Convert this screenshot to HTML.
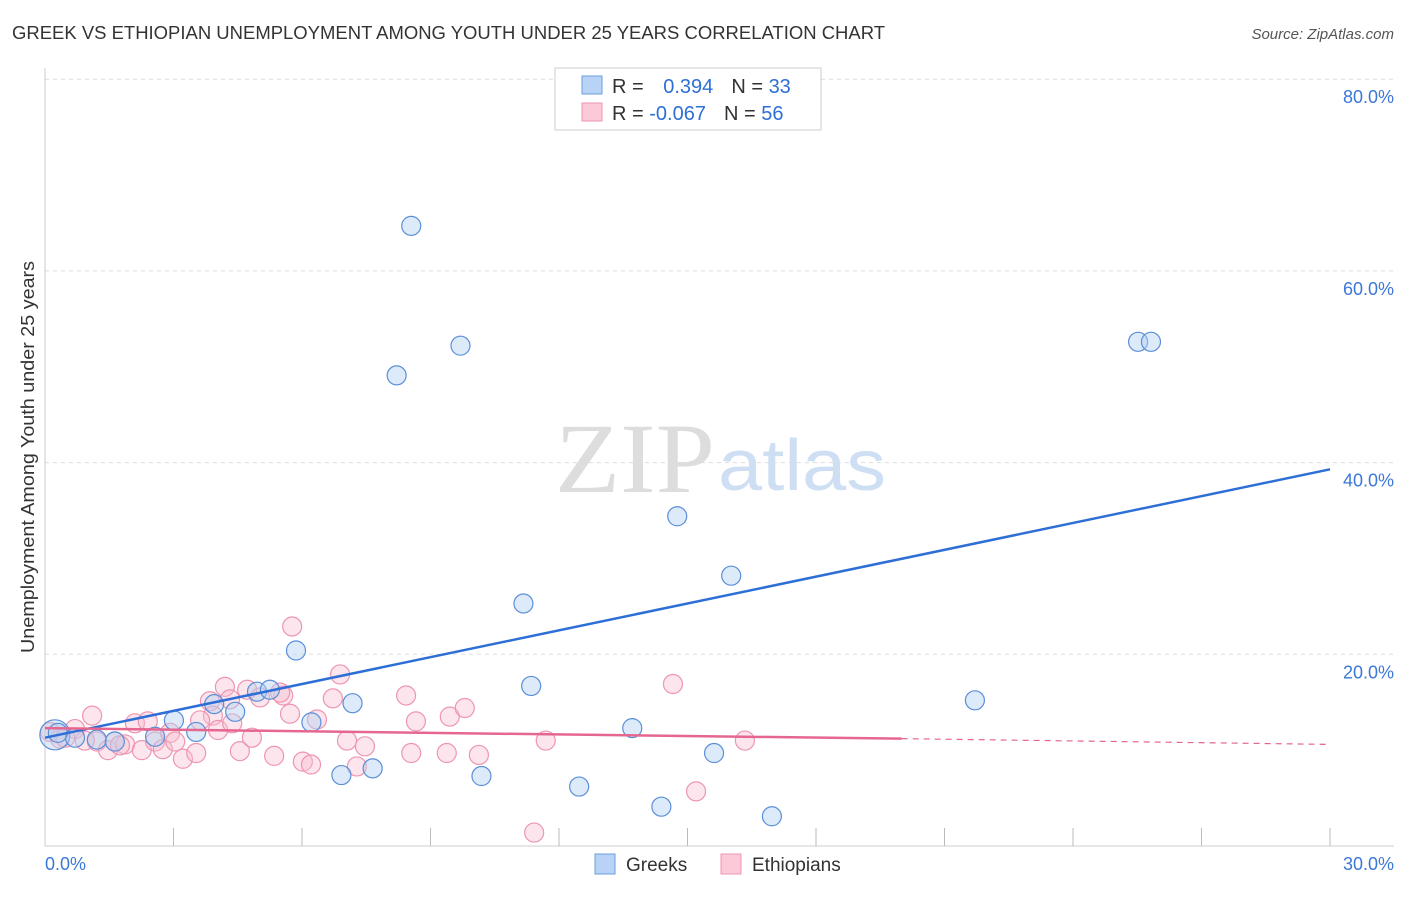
<!DOCTYPE html>
<html><head><meta charset="utf-8"><style>
body{margin:0;background:#fff;font-family:"Liberation Sans",sans-serif}
</style></head><body>
<svg width="1406" height="892" xmlns="http://www.w3.org/2000/svg" font-family="Liberation Sans, sans-serif">
<text x="12" y="39" font-size="18" fill="#333" textLength="873" lengthAdjust="spacingAndGlyphs">GREEK VS ETHIOPIAN UNEMPLOYMENT AMONG YOUTH UNDER 25 YEARS CORRELATION CHART</text>
<text x="1394" y="39" font-size="15" fill="#555" text-anchor="end" font-style="italic">Source: ZipAtlas.com</text>
<g id="grid"></g>
<text x="555" y="492" font-size="100" fill="#ddd" font-family="Liberation Serif, serif" textLength="160" lengthAdjust="spacingAndGlyphs">ZIP</text>
<text x="718" y="490" font-size="72" fill="#cfdff3" textLength="168" lengthAdjust="spacingAndGlyphs">atlas</text>
<line x1="45" y1="68" x2="45" y2="846" stroke="#ccc"/>
<line x1="45" y1="846" x2="1394" y2="846" stroke="#ccc"/>
<g id="ticks"></g>
<text transform="translate(34,457) rotate(-90)" font-size="18" fill="#333" text-anchor="middle" textLength="392" lengthAdjust="spacingAndGlyphs">Unemployment Among Youth under 25 years</text>
<text x="45" y="870" font-size="18" fill="#3b78d8">0.0%</text>
<text x="1394" y="870" font-size="18" fill="#3b78d8" text-anchor="end">30.0%</text>
<g id="pts"></g>
<g id="lines"></g>
<g>
<rect x="555" y="68" width="266" height="62" fill="#fff" stroke="#ccc"/>
<rect x="582" y="76" width="20" height="18" fill="#b8d3f5" stroke="#6a9ee0"/>
<rect x="582" y="103" width="20" height="18" fill="#fcc9d8" stroke="#ee95b2"/>
<text x="612" y="93" font-size="20" fill="#333">R = <tspan fill="#2d6fd6" dx="14">0.394</tspan><tspan dx="18">N = </tspan><tspan fill="#2d6fd6">33</tspan></text>
<text x="612" y="120" font-size="20" fill="#333">R = <tspan fill="#2d6fd6">-0.067</tspan><tspan dx="18">N = </tspan><tspan fill="#2d6fd6">56</tspan></text>
</g>
<g>
<rect x="595" y="854" width="20" height="20" fill="#b8d3f5" stroke="#6a9ee0"/>
<text x="626" y="871" font-size="19" fill="#333">Greeks</text>
<rect x="721" y="854" width="20" height="20" fill="#fcc9d8" stroke="#ee95b2"/>
<text x="752" y="871" font-size="19" fill="#333">Ethiopians</text>
</g>
</svg>
<script>
const yTicks=[20,40,60,80];
const xTicks=[3,6,9,12,15,18,21,24,27,30];
const greekX=[0.23,0.7,1.21,1.63,2.57,3.01,3.53,3.95,4.44,4.95,5.25,5.86,6.22,6.92,7.18,7.65,8.21,8.55,9.70,10.19,11.17,11.35,12.47,13.71,14.39,14.76,15.62,16.02,16.97,21.71,25.52,25.82,0.3];
const greekY=[11.6,11.3,11.1,10.9,11.4,13.1,11.9,14.8,14.0,16.1,16.3,20.4,12.9,7.4,14.9,8.1,49.1,64.7,52.2,7.3,25.3,16.7,6.2,12.3,4.1,34.4,9.7,28.2,3.1,15.2,52.6,52.6,11.8];
const ethX=[0.12,0.35,0.7,1.1,1.21,1.47,1.63,1.87,2.1,2.26,2.4,2.57,2.75,2.92,3.04,3.22,3.53,3.85,3.92,4.04,4.2,4.37,4.55,4.72,4.83,5.02,5.35,5.56,5.72,5.77,6.02,6.21,6.35,6.72,6.89,7.05,7.28,7.47,8.43,8.55,8.66,9.38,9.45,9.8,10.13,11.69,11.42,14.66,15.2,16.34,4.32,3.62,5.49,1.75,0.93,0.47];
const ethY=[11.9,11.2,12.2,13.6,10.9,10.0,10.9,10.6,12.8,10.0,13.0,10.9,10.1,11.8,10.9,9.1,9.7,15.1,13.6,12.1,16.6,12.8,9.9,16.3,11.3,15.5,9.4,15.7,13.8,22.9,8.8,8.5,13.2,15.4,17.9,11.0,8.3,10.4,15.7,9.7,13.0,9.7,13.5,14.4,9.5,11.0,1.4,16.9,5.7,11.0,15.3,13.1,16.0,10.5,11.0,11.3];
const NS='http://www.w3.org/2000/svg';
const X=v=>45+v/30*1285, Y=v=>846-v/20*191.7;
function mk(tag,attrs,parent){const e=document.createElementNS(NS,tag);for(const k in attrs)e.setAttribute(k,attrs[k]);document.getElementById(parent).appendChild(e);return e;}
yTicks.forEach(t=>{
 const l=mk('line',{x1:45,x2:1394,y1:Y(t),y2:Y(t),stroke:'#ddd','stroke-dasharray':'4,4'},'grid');
 
 
 const tx=mk('text',{x:1394,y:Y(t)+24,'font-size':18,fill:'#3b78d8','text-anchor':'end'},'grid');
 tx.textContent=t.toFixed(1)+'%';
 
 
});
xTicks.forEach(t=>{
 const l=mk('line',{x1:X(t),x2:X(t),y1:828,y2:846,stroke:'#bbb'},'ticks');
 
 
});
ethX.forEach((v,i)=>{
 const c=mk('circle',{cx:X(v),cy:Y(ethY[i]),r:9.5,fill:'rgba(248,190,208,0.4)',stroke:'#ee95b2','stroke-width':1.2},'pts');
 
 
});
greekX.forEach((v,i)=>{
 const c=mk('circle',{cx:X(v),cy:Y(greekY[i]),r:i==0?15:9.5,fill:'rgba(180,208,242,0.45)',stroke:'#5b8fd8','stroke-width':1.2},'pts');
 
 
});
const gl=mk('line',{x1:X(0),y1:Y(11.3),x2:X(30),y2:Y(39.3),stroke:'#2d6fd6','stroke-width':2.5},'lines');


const el=mk('line',{x1:X(0),y1:Y(12.3),x2:X(20),y2:Y(11.2),stroke:'#e5678f','stroke-width':2.5},'lines');


const ed=mk('line',{x1:X(20),y1:Y(11.2),x2:X(30),y2:Y(10.6),stroke:'#e5678f','stroke-width':1.2,'stroke-dasharray':'6,5'},'lines');


</script>
</body></html>
